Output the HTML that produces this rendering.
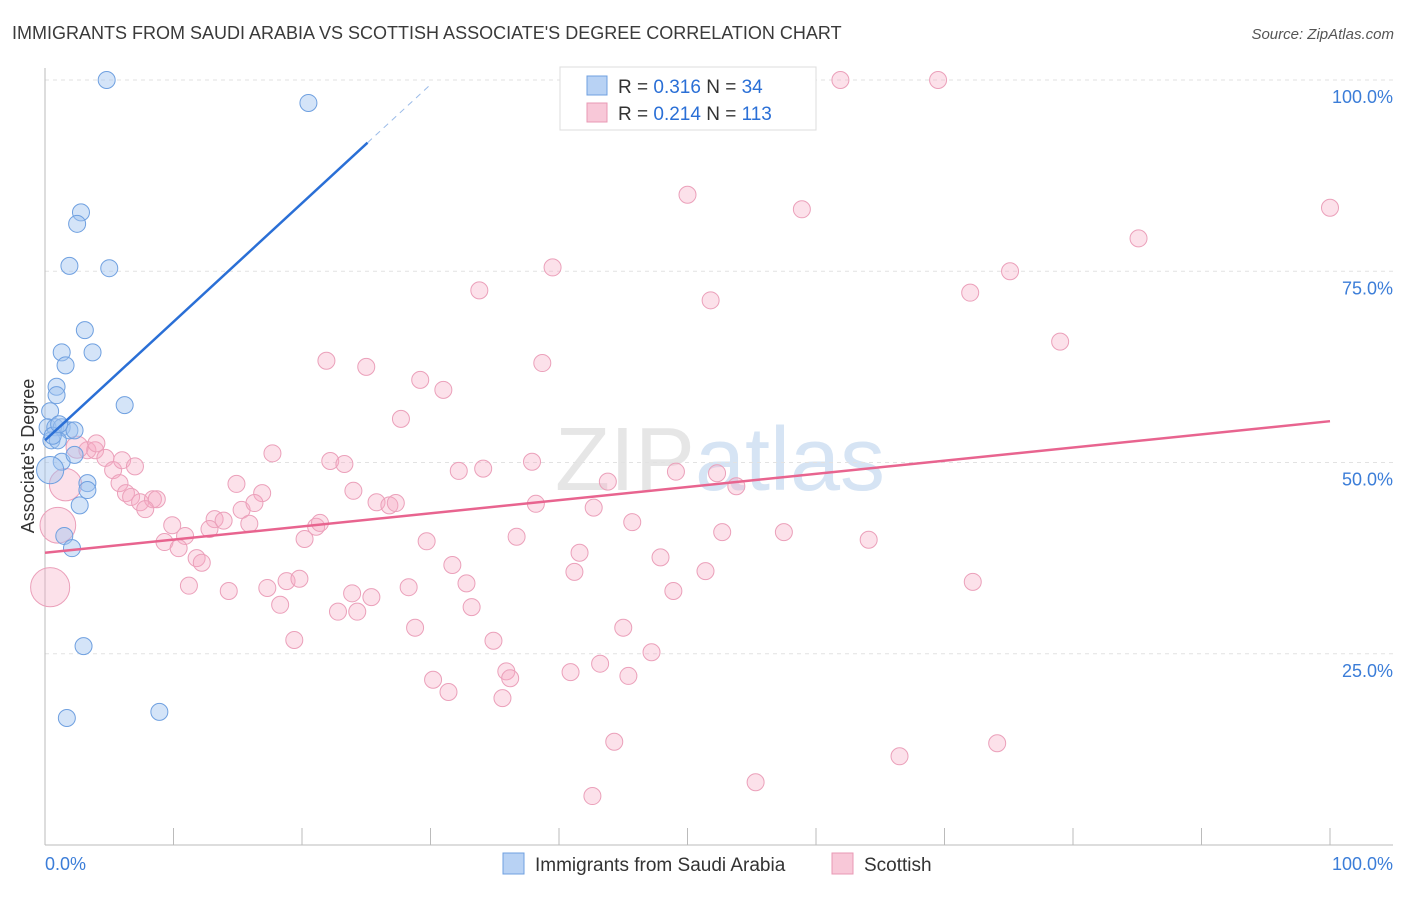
<!DOCTYPE html>
<html><head><meta charset="utf-8"><style>
body{margin:0;background:#fff;font-family:"Liberation Sans",sans-serif}
svg text{font-family:"Liberation Sans",sans-serif}
</style></head><body>
<svg id="chart" width="1406" height="892" viewBox="0 0 1406 892" xmlns="http://www.w3.org/2000/svg">
<text x="12" y="39" font-size="18" fill="#3a3a3a">IMMIGRANTS FROM SAUDI ARABIA VS SCOTTISH ASSOCIATE'S DEGREE CORRELATION CHART</text>
<text x="1394" y="39" font-size="15" fill="#555" font-style="italic" text-anchor="end">Source: ZipAtlas.com</text>
<text x="720" y="490" font-size="90" fill="#e6e6e6" text-anchor="middle" font-family="Liberation Serif">ZIP<tspan fill="#d6e4f4" font-family="Liberation Sans">atlas</tspan></text>
<g id="grid"></g>
<g id="axes"></g>
<g id="pinkPts"></g>
<g id="bluePts"></g>
<g id="lines"></g>
<text transform="translate(34,456) rotate(-90)" font-size="18" fill="#333" text-anchor="middle">Associate's Degree</text>
<g>
<rect x="560" y="67" width="256" height="63" fill="#fff" stroke="#ddd"/>
<rect x="587" y="76" width="20" height="19" fill="#b8d2f4" stroke="#6fa0e0"/>
<rect x="587" y="103" width="20" height="19" fill="#f8c8d8" stroke="#e899b4"/>
<text x="618" y="93" font-size="19" fill="#333">R = <tspan fill="#2a6fd6">0.316</tspan>   N = <tspan fill="#2a6fd6"> 34</tspan></text>
<text x="618" y="120" font-size="19" fill="#333">R = <tspan fill="#2a6fd6">0.214</tspan>   N = <tspan fill="#2a6fd6">113</tspan></text>
</g>
<g>
<rect x="503" y="853" width="21" height="21" fill="#b8d2f4" stroke="#6fa0e0"/>
<text x="535" y="871" font-size="19" fill="#333">Immigrants from Saudi Arabia</text>
<rect x="832" y="853" width="21" height="21" fill="#f8c8d8" stroke="#e899b4"/>
<text x="864" y="871" font-size="19" fill="#333">Scottish</text>
</g>
</svg>
<script>
const blueX=[4.8,20.5,2.8,2.5,1.9,5.0,3.1,1.3,3.7,1.6,0.9,0.9,6.2,0.4,0.2,0.8,1.3,1.9,2.3,0.5,1.0,1.3,2.3,0.4,3.3,3.3,2.7,1.5,2.1,3.0,1.7,8.9,0.6,1.1];
const blueY=[100,97.0,82.7,81.2,75.7,75.4,67.3,64.4,64.4,62.7,59.9,58.8,57.5,56.7,54.6,54.6,54.6,54.2,54.2,52.9,52.9,50.1,51.0,49.0,47.3,46.4,44.4,40.4,38.8,26.0,16.6,17.4,53.5,55.0];
const blueSize=[1,1,1,1,1,1,1,1,1,1,1,1,1,1,1,1,1,1,1,1,1,1,1,1.6,1,1,1,1,1,1,1,1,1,1];
const pinkX=[61.9,69.5,50.0,58.9,100,85.1,39.5,75.1,33.8,51.8,72.0,79.0,21.9,25.0,38.7,29.2,31.0,27.7,3.3,3.9,4.7,17.7,22.2,23.3,37.9,32.2,34.1,49.1,52.3,43.8,53.8,5.3,5.8,14.9,16.9,6.3,6.7,7.4,8.4,8.7,7.8,24.0,25.8,26.8,27.3,38.2,42.7,15.3,16.3,13.2,13.9,15.9,12.8,45.7,9.9,10.9,21.1,21.4,20.2,9.3,10.4,11.8,12.2,36.7,29.7,52.7,57.5,64.1,41.6,47.9,31.7,41.2,51.4,11.2,14.3,17.3,18.8,19.8,32.8,28.3,23.9,25.4,72.2,48.9,18.3,22.8,24.3,33.2,28.8,45.0,19.4,34.9,47.2,43.2,40.9,35.9,36.2,30.2,45.4,31.4,35.6,44.3,74.1,66.5,55.3,42.6,0.4,1.0,1.6,2.5,4.0,6.0,7.0];
const pinkY=[100,100,85.0,83.1,83.3,79.3,75.5,75.0,72.5,71.2,72.2,65.8,63.3,62.5,63.0,60.8,59.5,55.7,51.6,51.6,50.6,51.2,50.2,49.8,50.1,48.9,49.2,48.8,48.6,47.5,46.9,49.0,47.3,47.2,46.0,46.0,45.5,44.8,45.2,45.2,43.9,46.3,44.8,44.4,44.7,44.6,44.1,43.8,44.7,42.6,42.4,42.0,41.3,42.2,41.8,40.4,41.6,42.1,40.0,39.6,38.8,37.5,36.9,40.3,39.7,40.9,40.9,39.9,38.2,37.6,36.6,35.7,35.8,33.9,33.2,33.6,34.5,34.8,34.2,33.7,32.9,32.4,34.4,33.2,31.4,30.5,30.5,31.1,28.4,28.4,26.8,26.7,25.2,23.7,22.6,22.7,21.8,21.6,22.1,20.0,19.2,13.5,13.3,11.6,8.2,6.4,33.7,41.8,47.1,52.0,52.5,50.3,49.5];
const pinkSize=[1,1,1,1,1,1,1,1,1,1,1,1,1,1,1,1,1,1,1,1,1,1,1,1,1,1,1,1,1,1,1,1,1,1,1,1,1,1,1,1,1,1,1,1,1,1,1,1,1,1,1,1,1,1,1,1,1,1,1,1,1,1,1,1,1,1,1,1,1,1,1,1,1,1,1,1,1,1,1,1,1,1,1,1,1,1,1,1,1,1,1,1,1,1,1,1,1,1,1,1,1,1,1,1,1,1,2.3,2.1,1.9,1.3,1,1,1];
const yTicks=[25,50,75,100];
const yTickLabels=["25.0%","50.0%","75.0%","100.0%"];
const xTicks=[0,10,20,30,40,50,60,70,80,90,100];
const blueTrend=[[0,52.9],[25.1,91.8],[30,99.4]];
const pinkTrend=[[0,38.2],[100,55.4]];
const NS="http://www.w3.org/2000/svg";
const sx=v=>45+v*12.85, sy=v=>845-v*7.65;
function mk(tag,parent,attrs){const e=document.createElementNS(NS,tag);for(const k in attrs)e.setAttribute(k,attrs[k]);parent.appendChild(e);return e;}
const grid=document.getElementById('grid'), axes=document.getElementById('axes');
yTicks.forEach((t,i)=>{
 const l=mk('line',grid,{x1:45,x2:1393,y1:sy(t),y2:sy(t),stroke:'#e2e2e2','stroke-dasharray':'4,4'});
 
 
 const tx=mk('text',axes,{x:1393,y:sy(t)+23,'font-size':18,fill:'#3b7dd8','text-anchor':'end'});
 tx.textContent=yTickLabels[i];
 
 
});
const ax=mk('line',axes,{x1:45,x2:45,y1:68,y2:845,stroke:'#bbb'});


const bx=mk('line',axes,{x1:45,x2:1393,y1:845,y2:845,stroke:'#bbb'});


xTicks.forEach(t=>{
 const l=mk('line',axes,{x1:sx(t),x2:sx(t),y1:828,y2:845,stroke:'#bbb'});
 
 
});
[[0,'0.0%','start',45],[100,'100.0%','end',1393]].forEach(a=>{
 const tx=mk('text',axes,{x:a[3],y:870,'font-size':18,fill:'#3b7dd8','text-anchor':a[2]});
 tx.textContent=a[1];
 
 
});
const pg=document.getElementById('pinkPts');
pinkX.forEach((x,i)=>{
 const c=mk('circle',pg,{cx:sx(x),cy:sy(pinkY[i]),r:8.5*pinkSize[i],fill:'rgba(245,170,195,0.35)',stroke:'#eba0ba','stroke-width':1});
 
 
});
const bg=document.getElementById('bluePts');
blueX.forEach((x,i)=>{
 const c=mk('circle',bg,{cx:sx(x),cy:sy(blueY[i]),r:8.5*blueSize[i],fill:'rgba(160,196,240,0.45)',stroke:'#6fa0e0','stroke-width':1});
 
 
});
const lg=document.getElementById('lines');
const b1=mk('line',lg,{x1:sx(blueTrend[0][0]),y1:sy(blueTrend[0][1]),x2:sx(blueTrend[1][0]),y2:sy(blueTrend[1][1]),stroke:'#2a6fd6','stroke-width':2.5});


const b2=mk('line',lg,{x1:sx(blueTrend[1][0]),y1:sy(blueTrend[1][1]),x2:sx(blueTrend[2][0]),y2:sy(blueTrend[2][1]),stroke:'#9bbbe8','stroke-width':1,'stroke-dasharray':'6,5'});


const p1=mk('line',lg,{x1:sx(pinkTrend[0][0]),y1:sy(pinkTrend[0][1]),x2:sx(pinkTrend[1][0]),y2:sy(pinkTrend[1][1]),stroke:'#e8648f','stroke-width':2.5});


</script>
</body></html>
